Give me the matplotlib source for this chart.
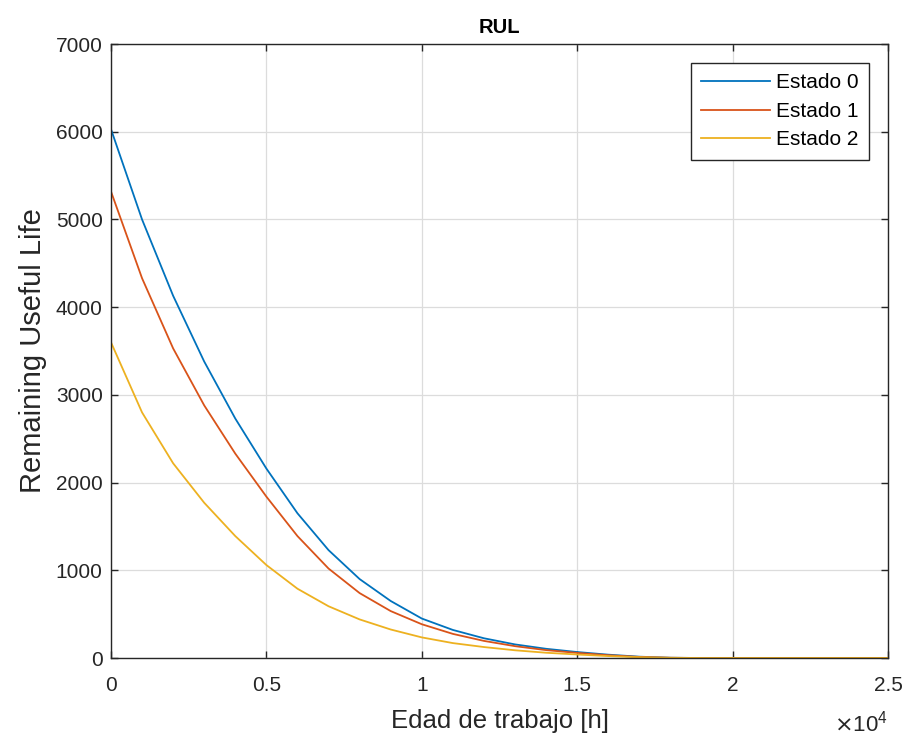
import numpy as np
import matplotlib.pyplot as plt
from matplotlib.ticker import FuncFormatter

plt.rcParams.update({
    "font.family": ["Liberation Sans", "DejaVu Sans"],
    "xtick.direction": "in",
    "ytick.direction": "in",
    "xtick.top": True,
    "ytick.right": True,
})

# edad de trabajo [h], cada 1000 h
edad = [0, 1000, 2000, 3000, 4000, 5000, 6000, 7000, 8000, 9000,
        10000, 11000, 12000, 13000, 14000, 15000, 16000, 17000, 18000,
        19000, 20000, 21000, 22000, 23000, 24000, 25000]

estado0 = [6030, 5000, 4130, 3380, 2730, 2160, 1650, 1230, 900, 650,
           450, 320, 225, 155, 105, 68, 38, 15, 3,
           0, 0, 0, 0, 0, 0, 0]
estado1 = [5320, 4330, 3530, 2880, 2330, 1840, 1390, 1020, 740, 535,
           385, 275, 195, 135, 90, 58, 32, 12, 3,
           0, 0, 0, 0, 0, 0, 0]
estado2 = [3600, 2800, 2220, 1770, 1390, 1060, 790, 590, 440, 325,
           235, 170, 125, 88, 60, 40, 22, 9, 2,
           0, 0, 0, 0, 0, 0, 0]

series = [estado0, estado1, estado2]
labels = ["Estado 0", "Estado 1", "Estado 2"]
colors = ["#0072BD", "#D95319", "#EDB120"]

TXT = "#262626"

fig = plt.figure(figsize=(9.11, 7.40), dpi=100)
ax = fig.add_axes([0.1218, 0.1108, 0.853, 0.8297])

for y, lab, c in zip(series, labels, colors):
    ax.plot(edad, y, color=c, linewidth=1.3, label=lab)

ax.set_xlim(0, 25000)
ax.set_ylim(0, 7000)
ax.set_xticks(np.arange(0, 25001, 5000))
ax.set_yticks(np.arange(0, 7001, 1000))
ax.xaxis.set_major_formatter(FuncFormatter(lambda v, p: f"{v / 1e4:g}"))
ax.grid(True, color="#dcdcdc", linewidth=0.9)
ax.set_axisbelow(True)

for s in ax.spines.values():
    s.set_color(TXT)
    s.set_linewidth(1.0)
ax.tick_params(colors=TXT, labelsize=15, length=5, width=1.0)
ax.tick_params(axis="x", pad=13)
ax.tick_params(axis="y", pad=6)

ax.set_title("RUL", fontsize=14.5, fontweight="bold", color="black", pad=8)
ax.set_xlabel("Edad de trabajo [h]", fontsize=18.5, color=TXT, labelpad=10)
ax.set_ylabel("Remaining Useful Life", fontsize=21, color=TXT, labelpad=6)
ax.text(1.0, -0.085, r"$\times\mathregular{10^{4}}$", transform=ax.transAxes,
        ha="right", va="top", fontsize=16, color=TXT)

leg = ax.legend(loc="upper right", fontsize=15, frameon=True, fancybox=False,
                handlelength=3.3, handletextpad=0.3, borderpad=0.5,
                labelspacing=0.45, borderaxespad=0.0,
                bbox_to_anchor=(0.9755, 0.969))
leg.get_frame().set_edgecolor(TXT)
leg.get_frame().set_linewidth(1.0)
leg.get_frame().set_alpha(1.0)

fig.savefig("out.png", dpi=100)
